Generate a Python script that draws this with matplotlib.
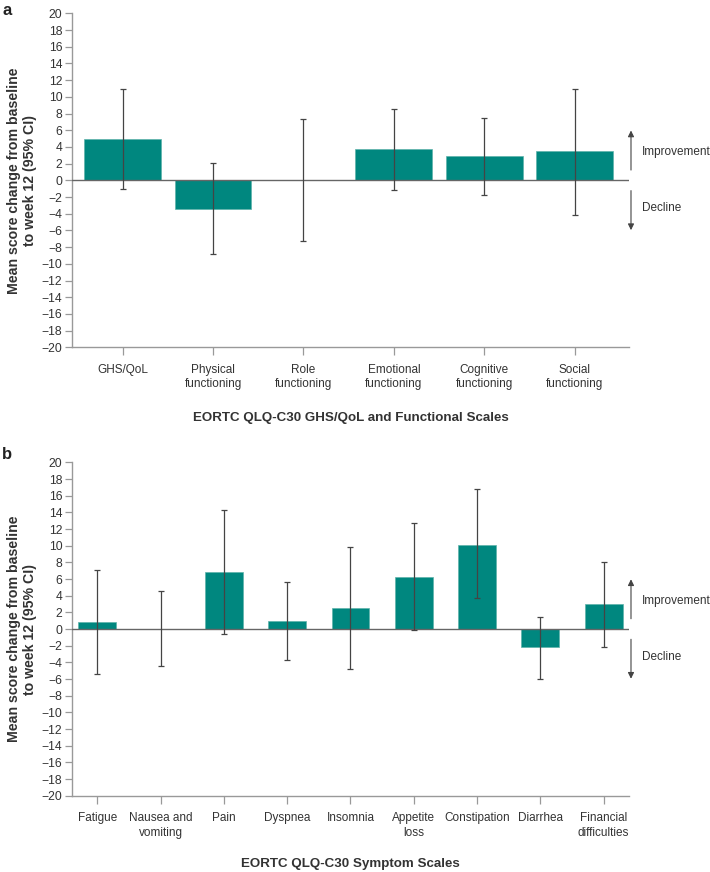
import matplotlib
matplotlib.use("Agg")
import matplotlib.pyplot as plt
import matplotlib.transforms as mtransforms
import numpy as np

plt.rcParams['font.family'] = ['Liberation Sans', 'DejaVu Sans']

# panel a: GHS/QoL and functional scales
func_labels = ["GHS/QoL", "Physical\nfunctioning", "Role\nfunctioning",
               "Emotional\nfunctioning", "Cognitive\nfunctioning", "Social\nfunctioning"]
func_mean = [4.9, -3.4, 0.0, 3.7, 2.9, 3.5]
func_lo = [-1.0, -8.8, -7.3, -1.2, -1.7, -4.2]
func_hi = [10.9, 2.1, 7.3, 8.5, 7.5, 10.9]

# panel b: symptom scales
sym_labels = ["Fatigue", "Nausea and\nvomiting", "Pain", "Dyspnea", "Insomnia",
              "Appetite\nloss", "Constipation", "Diarrhea", "Financial\ndifficulties"]
sym_mean = [0.8, 0.0, 6.8, 1.0, 2.5, 6.2, 10.1, -2.2, 3.0]
sym_lo = [-5.4, -4.4, -0.6, -3.7, -4.8, -0.1, 3.7, -6.0, -2.1]
sym_hi = [7.1, 4.6, 14.3, 5.7, 9.8, 12.7, 16.8, 1.4, 8.0]

teal = "#00877f"
grey = "#999999"
txt = "#333333"


def panel(ax, labels, mean, lo, hi, width, xlim, title, tpad):
    x = np.arange(len(labels))
    mean = np.array(mean)
    yerr = [mean - np.array(lo), np.array(hi) - mean]
    ax.bar(x, mean, width=width, color=teal, edgecolor="#5fb3ab", linewidth=0.5, zorder=2)
    ax.errorbar(x, mean, yerr=yerr, fmt="none", ecolor="#444444", elinewidth=0.9,
                capsize=2.5, capthick=0.9, zorder=4)
    ax.axhline(0, color="#666666", lw=1.0, zorder=3)
    ax.set_xlim(*xlim)
    ax.set_ylim(-20, 20)
    ax.set_yticks(np.arange(-20, 21, 2))
    ax.set_xticks(x)
    ax.set_xticklabels(labels, fontsize=8.5, color=txt, linespacing=1.25)
    ax.tick_params(axis="y", labelsize=8.7, labelcolor=txt, color=grey, length=5, width=0.9, pad=2)
    ax.tick_params(axis="x", color=grey, length=6, width=0.9, pad=6)
    for s in ["top", "right"]:
        ax.spines[s].set_visible(False)
    for s in ["left", "bottom"]:
        ax.spines[s].set_color(grey)
        ax.spines[s].set_linewidth(1.0)
    ax.set_ylabel("Mean score change from baseline\nto week 12 (95% CI)",
                  fontsize=10.2, fontweight="bold", color=txt, labelpad=3, linespacing=1.2)
    ax.set_xlabel(title, fontsize=9.6, fontweight="bold", color=txt, labelpad=tpad)

    trans = mtransforms.blended_transform_factory(ax.transAxes, ax.transData)
    for y0, y1 in [(0.9, 6.3), (-0.9, -6.3)]:
        ax.annotate("", xy=(1.0036, y1), xytext=(1.0036, y0), xycoords=trans, textcoords=trans,
                    arrowprops=dict(arrowstyle="-|>", color="#444444", lw=0.8,
                                    mutation_scale=9),
                    annotation_clip=False)
    ax.text(1.023, 3.4, "Improvement", transform=trans, fontsize=8.5, color=txt,
            ha="left", va="center", clip_on=False)
    ax.text(1.023, -3.3, "Decline", transform=trans, fontsize=8.5, color=txt,
            ha="left", va="center", clip_on=False)


fig = plt.figure(figsize=(7.1, 8.72), dpi=100)
ax1 = fig.add_axes([0.1014, 0.6017, 0.7845, 0.383])
ax2 = fig.add_axes([0.1014, 0.0875, 0.7845, 0.3823])

panel(ax1, func_labels, func_mean, func_lo, func_hi, 0.85, (-0.56, 5.6),
      "EORTC QLQ-C30 GHS/QoL and Functional Scales", 16)
panel(ax2, sym_labels, sym_mean, sym_lo, sym_hi, 0.6, (-0.4, 8.4),
      "EORTC QLQ-C30 Symptom Scales", 14)

fig.text(0.003, 0.997, "a", fontsize=12, fontweight="bold", color="#222222", va="top")
fig.text(0.003, 0.487, "b", fontsize=12, fontweight="bold", color="#222222", va="top")

fig.savefig("out.png", dpi=100)
plt.close(fig)
